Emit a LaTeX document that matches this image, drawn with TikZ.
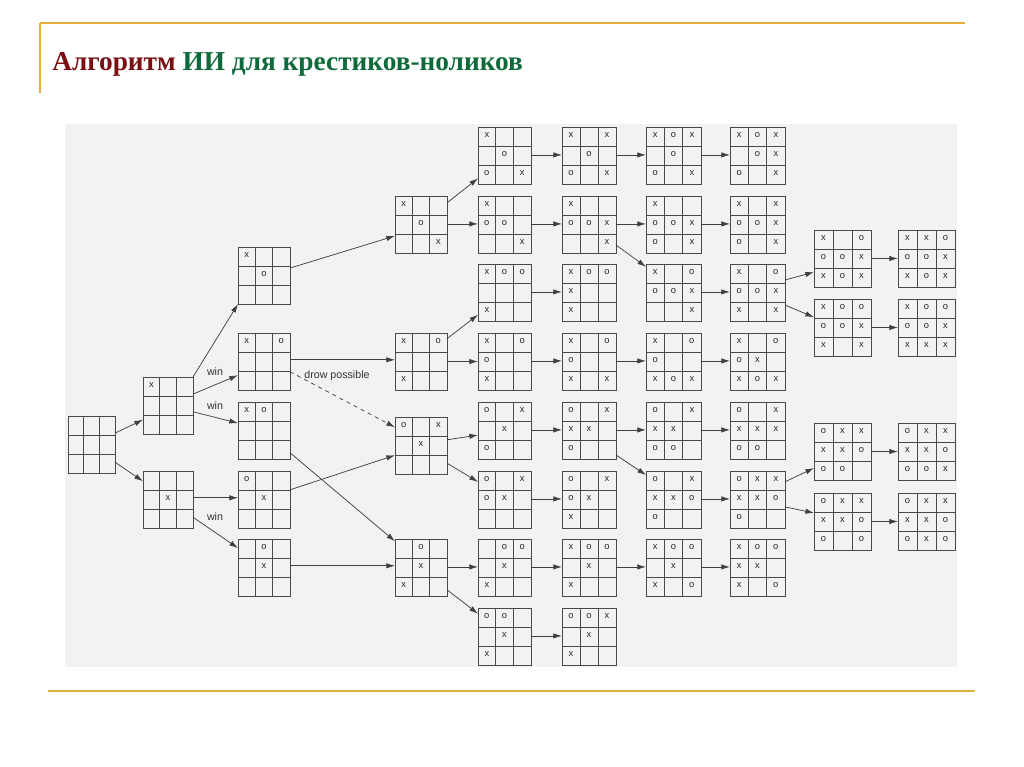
\documentclass[tikz,border=0pt]{standalone}
\usepackage{fontspec}
\setmainfont{Liberation Serif}
\newfontfamily\sansf{Liberation Sans}
\usetikzlibrary{calc,arrows.meta}
\definecolor{gold}{HTML}{E0B03A}
\definecolor{ttlred}{HTML}{7A0E12}
\definecolor{ttlgreen}{HTML}{0E6A3A}
\definecolor{gridc}{HTML}{4A4A4A}
\definecolor{panel}{HTML}{F2F2F2}
\tikzset{
 bx/.style={draw=gridc, line width=0.65pt, inner sep=0pt, outer sep=0pt, rectangle},
 gl/.style={draw=gridc, line width=0.65pt},
 mk/.style={font=\sansf\fontsize{7}{8}\selectfont, inner sep=0pt, text=black!85},
 arr/.style={draw=black!75, line width=0.55pt, -{Latex[length=6.5pt,width=4pt]}},
 lbl/.style={font=\sansf\fontsize{8}{9}\selectfont, text=black!80, inner sep=0pt},
 rule/.style={draw=gold, line width=2.2pt},
}
% \bd{name}{x left}{y top}{width}{cells}
\newcommand\bd[5]{%
 \pgfmathsetlengthmacro\bdw{#4*0.75pt}%
 \node[bx, minimum width=\bdw, minimum height=42.75pt] (#1) at ({#2+#4/2},{#3+28.5}) {};
 \draw[gl] ($(#1.north west)!1/3!(#1.north east)$) -- ($(#1.south west)!1/3!(#1.south east)$);
 \draw[gl] ($(#1.north west)!2/3!(#1.north east)$) -- ($(#1.south west)!2/3!(#1.south east)$);
 \draw[gl] ($(#1.north west)!1/3!(#1.south west)$) -- ($(#1.north east)!1/3!(#1.south east)$);
 \draw[gl] ($(#1.north west)!2/3!(#1.south west)$) -- ($(#1.north east)!2/3!(#1.south east)$);
 \foreach \c [count=\i from 0] in {#5} {%
   \if\c-\else
     \pgfmathtruncatemacro\cc{mod(\i,3)}%
     \pgfmathtruncatemacro\rr{floor(\i/3)}%
     \node[mk] (#1-\i) at ({#2+(\cc+0.5)*#4/3},{#3+(\rr+0.5)*19-1}) {\c};
   \fi}%
}
% \cn[opts]{from}{frac}{to}{frac}
\newcommand\cn[5][]{\draw[arr,#1] ($(#2.north east)!#3!(#2.south east)$) -- ($(#4.north west)!#5!(#4.south west)$);}
\begin{document}
\begin{tikzpicture}[x=0.75pt,y=-0.75pt]
\useasboundingbox (0,0) rectangle (1024,767);
\fill[white] (0,0) rectangle (1024,767);
% slide frame
\draw[rule] (40,23) -- (965,23);
\draw[draw=gold, line width=1.5pt] (40,23) -- (40,93);
\draw[rule] (48,691) -- (975,691);
\node[anchor=base west, inner sep=0pt, font=\bfseries\fontsize{20.5}{24}\selectfont] (title) at (52,70)
  {\textcolor{ttlred}{Алгоритм} \textcolor{ttlgreen}{ИИ для крестиков-ноликов}};
% picture panel
\fill[panel] (65,124) rectangle (957,667);
% boards
\bd{b0}{68}{416}{47}{-,-,-,-,-,-,-,-,-}
\bd{a1}{143}{377}{50}{x,-,-,-,-,-,-,-,-}
\bd{b1}{143}{471}{50}{-,-,-,-,x,-,-,-,-}
\bd{a2}{238}{247}{52}{x,-,-,-,o,-,-,-,-}
\bd{b2}{238}{333}{52}{x,-,o,-,-,-,-,-,-}
\bd{c2}{238}{402}{52}{x,o,-,-,-,-,-,-,-}
\bd{d2}{238}{471}{52}{o,-,-,-,x,-,-,-,-}
\bd{e2}{238}{539}{52}{-,o,-,-,x,-,-,-,-}
\bd{a3}{395}{196}{52}{x,-,-,-,o,-,-,-,x}
\bd{b3}{395}{333}{52}{x,-,o,-,-,-,x,-,-}
\bd{c3}{395}{417}{52}{o,-,x,-,x,-,-,-,-}
\bd{d3}{395}{539}{52}{-,o,-,-,x,-,x,-,-}
% column 4
\bd{r1c4}{478}{127}{53}{x,-,-,-,o,-,o,-,x}
\bd{r2c4}{478}{196}{53}{x,-,-,o,o,-,-,-,x}
\bd{r3c4}{478}{264}{53}{x,o,o,-,-,-,x,-,-}
\bd{r4c4}{478}{333}{53}{x,-,o,o,-,-,x,-,-}
\bd{r5c4}{478}{402}{53}{o,-,x,-,x,-,o,-,-}
\bd{r6c4}{478}{471}{53}{o,-,x,o,x,-,-,-,-}
\bd{r7c4}{478}{539}{53}{-,o,o,-,x,-,x,-,-}
\bd{r8c4}{478}{608}{53}{o,o,-,-,x,-,x,-,-}
% column 5
\bd{r1c5}{562}{127}{54}{x,-,x,-,o,-,o,-,x}
\bd{r2c5}{562}{196}{54}{x,-,-,o,o,x,-,-,x}
\bd{r3c5}{562}{264}{54}{x,o,o,x,-,-,x,-,-}
\bd{r4c5}{562}{333}{54}{x,-,o,o,-,-,x,-,x}
\bd{r5c5}{562}{402}{54}{o,-,x,x,x,-,o,-,-}
\bd{r6c5}{562}{471}{54}{o,-,x,o,x,-,x,-,-}
\bd{r7c5}{562}{539}{54}{x,o,o,-,x,-,x,-,-}
\bd{r8c5}{562}{608}{54}{o,o,x,-,x,-,x,-,-}
% column 6
\bd{r1c6}{646}{127}{55}{x,o,x,-,o,-,o,-,x}
\bd{r2c6}{646}{196}{55}{x,-,-,o,o,x,o,-,x}
\bd{r3c6}{646}{264}{55}{x,-,o,o,o,x,-,-,x}
\bd{r4c6}{646}{333}{55}{x,-,o,o,-,-,x,o,x}
\bd{r5c6}{646}{402}{55}{o,-,x,x,x,-,o,o,-}
\bd{r6c6}{646}{471}{55}{o,-,x,x,x,o,o,-,-}
\bd{r7c6}{646}{539}{55}{x,o,o,-,x,-,x,-,o}
% column 7
\bd{r1c7}{730}{127}{55}{x,o,x,-,o,x,o,-,x}
\bd{r2c7}{730}{196}{55}{x,-,x,o,o,x,o,-,x}
\bd{r3c7}{730}{264}{55}{x,-,o,o,o,x,x,-,x}
\bd{r4c7}{730}{333}{55}{x,-,o,o,x,-,x,o,x}
\bd{r5c7}{730}{402}{55}{o,-,x,x,x,x,o,o,-}
\bd{r6c7}{730}{471}{55}{o,x,x,x,x,o,o,-,-}
\bd{r7c7}{730}{539}{55}{x,o,o,x,x,-,x,-,o}
% column 8
\bd{a8}{814}{230}{57}{x,-,o,o,o,x,x,o,x}
\bd{b8}{814}{299}{57}{x,o,o,o,o,x,x,-,x}
\bd{c8}{814}{423}{57}{o,x,x,x,x,o,o,o,-}
\bd{d8}{814}{493}{57}{o,x,x,x,x,o,o,-,o}
% column 9
\bd{a9}{898}{230}{57}{x,x,o,o,o,x,x,o,x}
\bd{b9}{898}{299}{57}{x,o,o,o,o,x,x,x,x}
\bd{c9}{898}{423}{57}{o,x,x,x,x,o,o,o,x}
\bd{d9}{898}{493}{57}{o,x,x,x,x,o,o,x,o}
% connectors
\cn{b0}{0.30}{a1}{0.75}
\cn{b0}{0.81}{b1}{0.18}
\cn{a1}{0}{a2}{1}
\cn{a1}{0.30}{b2}{0.74}
\cn{a1}{0.61}{c2}{0.37}
\cn{b1}{0.47}{d2}{0.47}
\cn{b1}{0.81}{e2}{0.16}
\cn{a2}{0.37}{a3}{0.70}
\cn{b2}{0.47}{b3}{0.47}
\cn[dashed]{b2}{0.68}{c3}{0.18}
\cn{c2}{0.89}{d3}{0.04}
\cn{d2}{0.33}{c3}{0.67}
\cn{e2}{0.47}{d3}{0.47}
\cn{a3}{0.12}{r1c4}{0.90}
\cn{a3}{0.49}{r2c4}{0.49}
\cn{b3}{0.10}{r3c4}{0.89}
\cn{b3}{0.50}{r4c4}{0.50}
\cn{c3}{0.40}{r5c4}{0.58}
\cn{c3}{0.81}{r6c4}{0.19}
\cn{d3}{0.49}{r7c4}{0.49}
\cn{d3}{0.89}{r8c4}{0.10}
\foreach \r in {1,...,8} {\cn{r\r c4}{0.49}{r\r c5}{0.49}}
\cn{r1c5}{0.49}{r1c6}{0.49}
\cn{r2c5}{0.49}{r2c6}{0.49}
\cn{r2c5}{0.86}{r3c6}{0.05}
\cn{r4c5}{0.49}{r4c6}{0.49}
\cn{r5c5}{0.49}{r5c6}{0.49}
\cn{r5c5}{0.93}{r6c6}{0.07}
\cn{r7c5}{0.49}{r7c6}{0.49}
\foreach \r in {1,...,7} {\cn{r\r c6}{0.49}{r\r c7}{0.49}}
\cn{r3c7}{0.28}{a8}{0.74}
\cn{r3c7}{0.72}{b8}{0.32}
\cn{r6c7}{0.19}{c8}{0.79}
\cn{r6c7}{0.63}{d8}{0.35}
\cn{a8}{0.5}{a9}{0.5}
\cn{b8}{0.5}{b9}{0.5}
\cn{c8}{0.5}{c9}{0.5}
\cn{d8}{0.5}{d9}{0.5}
% labels
\node[lbl] (w1) at (215,372) {win};
\node[lbl] (w2) at (215,406) {win};
\node[lbl] (w3) at (215,517) {win};
\node[lbl] (dp) at (337,376) {drow possible};
\end{tikzpicture}
\end{document}
